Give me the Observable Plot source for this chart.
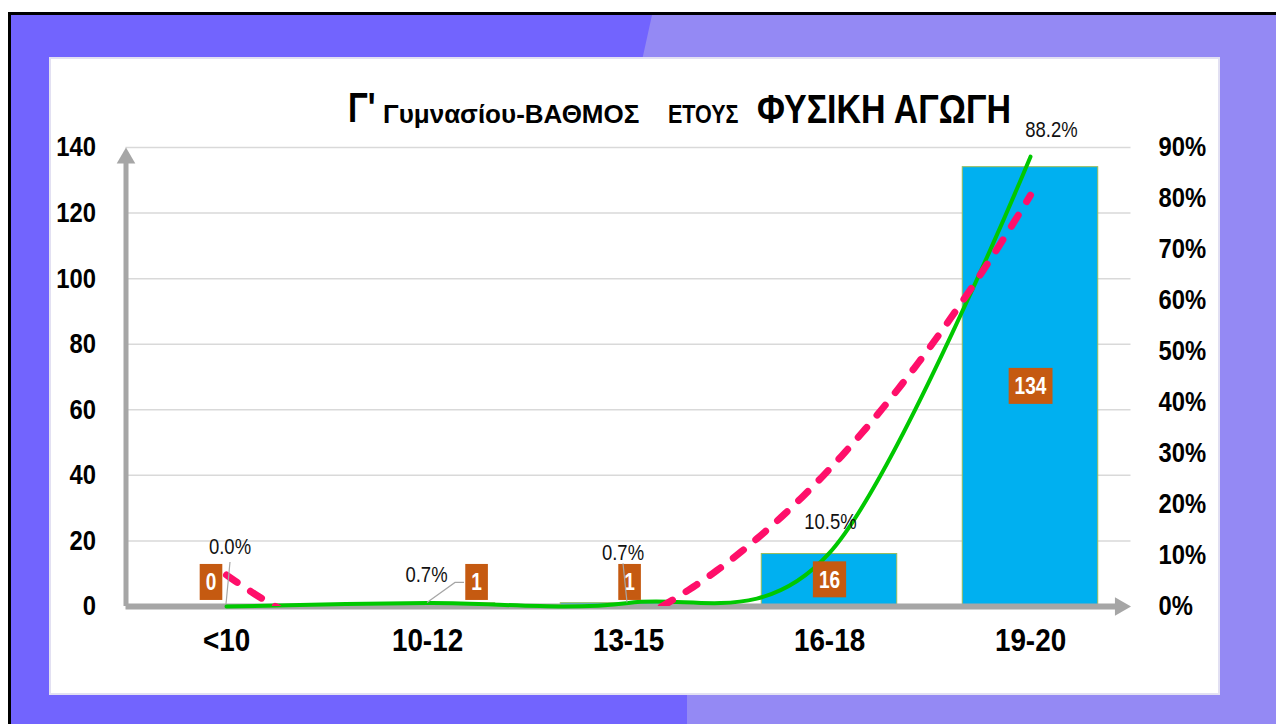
<!DOCTYPE html>
<html>
<head>
<meta charset="utf-8">
<script src="https://cdn.jsdelivr.net/npm/d3@7"></script>
<script src="https://cdn.jsdelivr.net/npm/@observablehq/plot@0.6"></script>
<style>
  body { margin: 0; background: #fff; }
  #wrap { position: relative; width: 1276px; height: 724px; overflow: hidden; background: #fff; }
  .bgdark { position: absolute; left: 8px; top: 12px; right: 0; bottom: 0; background: #7264FE;
            border-top: 3px solid #000; border-left: 3px solid #000; }
  .bglight { position: absolute; left: 0; top: 15px; right: 0; bottom: 0; background: #9489F4;
             clip-path: polygon(652px 0, 1276px 0, 1276px 709px, 687px 709px, 687px 560px, 641px 50px); }
  .panel { position: absolute; left: 51px; top: 59px; width: 1167px; height: 634px; background: #fff;
           box-shadow: 0 0 0 2px #E2E0F2; }
  .t { position: absolute; white-space: nowrap; color: #000; font-family: "Liberation Sans", sans-serif;
       font-weight: bold; line-height: 1; transform-origin: 0 0; display: inline-block; }
  #chart svg { position: absolute; left: 0; top: 0; }
</style>
</head>
<body>
<div id="wrap">
  <div class="bgdark"></div>
  <div class="bglight"></div>
  <div class="panel"></div>
  <div id="title">
    <span class="t" style="left:348px; top:87.4px; font-size:42px; transform:scaleX(0.78)">Γ'</span>
    <span class="t" style="left:383px; top:101px; font-size:26px;">Γυμνασίου-ΒΑΘΜΟΣ</span>
    <span class="t" style="left:668px; top:101.8px; font-size:25px; transform:scaleX(0.86)">ΕΤΟΥΣ</span>
    <span class="t" style="left:757px; top:89.1px; font-size:40px; transform:scaleX(0.85)">ΦΥΣΙΚΗ ΑΓΩΓΗ</span>
  </div>
  <div id="chart"></div>
</div>
<script>
// ---- data ----
const categories = ["<10", "10-12", "13-15", "16-18", "19-20"];
const counts = [0, 1, 1, 16, 134];
const percents = [0.0, 0.7, 0.7, 10.5, 88.2];
const countTicks = [0, 20, 40, 60, 80, 100, 120, 140];
const percentTicks = [0, 10, 20, 30, 40, 50, 60, 70, 80, 90];

// ---- layout (label nudges, in pixels) ----
const boxNudgeX = [-15.5, 49, 1, 0, 0];
const boxMinY = 7.2;
const pctNudge = [[3.5, -60], [-1, -27.5], [-5.5, -50], [1, -30.5], [21, -27]];
const leaders = [[[4, -44], [0, -2]], [[37, -20], [28, -20], [0, 0]], [[-5, -39], [-1, 0]], null, null];
// horizontal condensing per font size (the original uses a narrow face)
const squeeze = {"28px": 0.85, "32px": 0.87, "22px": 0.84, "23px": 0.83};

const K = 140 / 90; // percent -> left-axis units (90% aligns with 140)
const rows = categories.map((c, k) => ({i: k + 1, cat: c, count: counts[k], pct: percents[k], py: percents[k] * K}));

// Excel-style polynomial (order 2) trendline of the percentage series
function polyfit2(xs, ys) {
  const S = [0, 0, 0, 0, 0], T = [0, 0, 0];
  xs.forEach((x, k) => {
    for (let p = 0; p < 5; p++) S[p] += x ** p;
    for (let p = 0; p < 3; p++) T[p] += ys[k] * x ** p;
  });
  const A = [[S[0], S[1], S[2], T[0]], [S[1], S[2], S[3], T[1]], [S[2], S[3], S[4], T[2]]];
  for (let c = 0; c < 3; c++) {
    for (let r = c + 1; r < 3; r++) {
      const f = A[r][c] / A[c][c];
      for (let k = c; k < 4; k++) A[r][k] -= f * A[c][k];
    }
  }
  const s = [0, 0, 0];
  for (let r = 2; r >= 0; r--) {
    let v = A[r][3];
    for (let k = r + 1; k < 3; k++) v -= A[r][k] * s[k];
    s[r] = v / A[r][r];
  }
  return s;
}
const coef = polyfit2(rows.map(d => d.i), percents);
const trend = d3.range(1, 5.0001, 0.02).map(x => ({x, y: (coef[0] + coef[1] * x + coef[2] * x * x) * K}));

const FONT = "'Liberation Sans', sans-serif";

const pctLabels = rows.map((d, k) => Plot.text([d], {
  x: "i", y: "py", text: r => r.pct.toFixed(1) + "%",
  dx: pctNudge[k][0], dy: pctNudge[k][1], fontSize: 22, fill: "#111"
}));
const valueLabels = rows.map((d, k) => Plot.text([d], {
  x: "i", y: r => Math.max(r.count / 2, boxMinY), text: r => String(r.count),
  dx: boxNudgeX[k], fontSize: 23, fontWeight: "bold", fill: "#fff", ariaDescription: "value-label"
}));

const plot = Plot.plot({
  width: 1276, height: 724,
  marginLeft: 125.5, marginRight: 145.5, marginTop: 147, marginBottom: 118,
  style: {background: "transparent", fontFamily: FONT, color: "#000", overflow: "visible"},
  x: {type: "linear", domain: [0.5, 5.5]},
  y: {domain: [0, 140]},
  marks: [
    Plot.ruleY(countTicks.filter(v => v > 0), {stroke: "#D9D9D9", strokeWidth: 1.5}),
    Plot.rect(rows, {x1: d => d.i - 0.337, x2: d => d.i + 0.337, y1: 0, y2: "count",
                     fill: "#00B0F0", stroke: "#9BBB59", strokeWidth: 1}),
    Plot.ruleX([0.5], {y1: 0, y2: 136, stroke: "#A6A6A6", strokeWidth: 5}),
    Plot.dot([{x: 0.5, y: 140}], {x: "x", y: "y", symbol: "triangle", r: 6.9, fill: "#A6A6A6", dy: 10.7}),
    Plot.ruleY([0], {x1: 0.5, x2: 5.44, stroke: "#A6A6A6", strokeWidth: 6}),
    Plot.dot([{x: 5.5, y: 0}], {x: "x", y: "y", symbol: "triangle", r: 6.9, fill: "#A6A6A6", rotate: 90, dx: -10.7}),
    Plot.axisY(countTicks, {anchor: "left", tickSize: 0, tickPadding: 30, fontSize: 28, fontWeight: "bold", label: null}),
    Plot.axisY(percentTicks.map(p => p * K), {anchor: "right", tickSize: 0, tickPadding: 27.5,
               tickFormat: v => Math.round(v / K) + "%", fontSize: 28, fontWeight: "bold", label: null}),
    Plot.axisX(rows.map(d => d.i), {tickSize: 0, tickPadding: 22, tickFormat: i => categories[i - 1],
               fontSize: 32, fontWeight: "bold", label: null}),
    Plot.line(rows, {x: "i", y: "py", curve: "cardinal", stroke: "#00C800", strokeWidth: 4}),
    Plot.line(trend, {x: "x", y: "y", stroke: "#FF0F6A", strokeWidth: 7, strokeDasharray: "13,16",
                      strokeLinecap: "round", clip: true}),
    ...pctLabels,
    ...valueLabels
  ]
});
document.getElementById("chart").appendChild(plot);

// condense the chart texts horizontally
d3.select(plot).selectAll("text").each(function () {
  const f = squeeze[getComputedStyle(this).fontSize];
  if (!f) return;
  const w = this.getComputedTextLength();
  this.setAttribute("textLength", w * f);
  this.setAttribute("lengthAdjust", "spacingAndGlyphs");
});

// brown boxes behind the count labels
d3.select(plot).selectAll('g[aria-description="value-label"] text').each(function () {
  const b = this.getBBox();
  const tl = parseFloat(this.getAttribute("textLength")) || b.width;
  const w = tl + 12, h = 36;
  const tx = parseFloat(this.getAttribute("x")) || 0, ty = parseFloat(this.getAttribute("y")) || 0;
  const cx = b.x + b.width / 2, cy = b.y + b.height / 2 - 0.3;
  const r = d3.select(this.parentNode).insert("rect", () => this)
    .attr("x", cx - w / 2).attr("y", cy - h / 2).attr("width", w).attr("height", h)
    .attr("fill", "#C55A11");
  const tr = this.getAttribute("transform");
  if (tr) r.attr("transform", tr);
});

// leader lines from percentage labels to their points
const sx = plot.scale("x"), sy = plot.scale("y");
const fx = sx.apply ? v => sx.apply(v) : d3.scaleLinear(sx.domain, sx.range);
const fy = sy.apply ? v => sy.apply(v) : d3.scaleLinear(sy.domain, sy.range);
rows.forEach((d, k) => {
  if (!leaders[k]) return;
  const px = fx(d.i), py = fy(d.py);
  d3.select(plot).append("path")
    .attr("d", d3.line()(leaders[k].map(([ox, oy]) => [px + ox, py + oy])))
    .attr("fill", "none").attr("stroke", "#A6A6A6").attr("stroke-width", 1.2);
});
</script>
</body>
</html>
